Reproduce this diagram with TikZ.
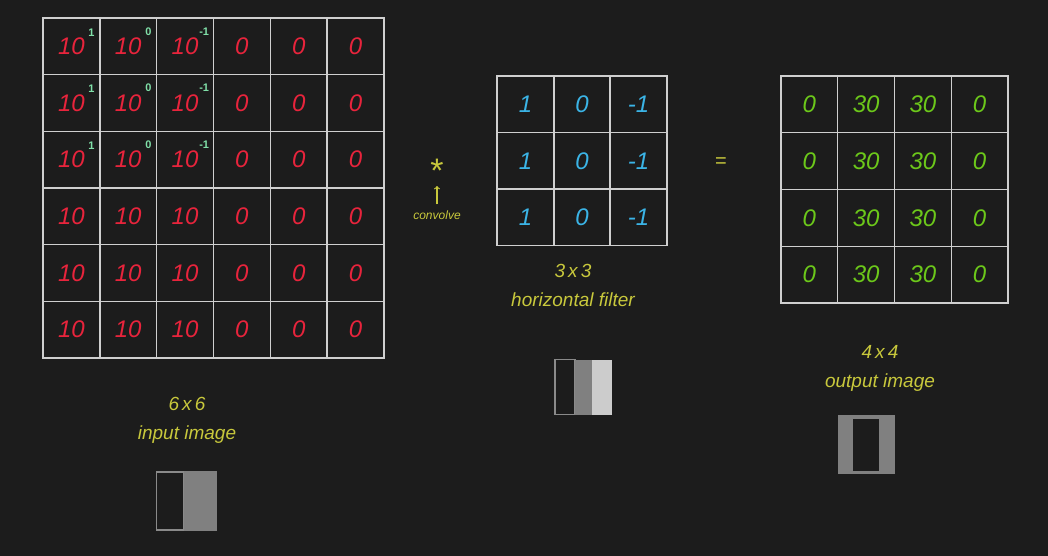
\documentclass[tikz,border=0pt]{standalone}
\usepackage{fontspec}
\setmainfont{Liberation Sans}
\definecolor{bg}{HTML}{1C1C1C}
\definecolor{gridc}{HTML}{CFCFCF}
\definecolor{redv}{HTML}{E8243C}
\definecolor{cyanv}{HTML}{3BB4E6}
\definecolor{greenv}{HTML}{6CC81A}
\definecolor{mintv}{HTML}{80E0A8}
\definecolor{yel}{HTML}{C8C83C}
\definecolor{midgray}{HTML}{808080}
\definecolor{lightgray}{HTML}{CCCCCC}
\definecolor{edgegray}{HTML}{8A8A8A}
\tikzset{
  cellbox/.style={draw=gridc, line width=1.4pt, inner sep=0pt, minimum width=56.8pt, minimum height=56.7pt, font=\fontsize{24}{24}\selectfont\itshape},
  incell/.style={cellbox, text=redv},
  fcell/.style={cellbox, text=cyanv},
  ocell/.style={cellbox, text=greenv},
  supv/.style={text=mintv, font=\fontsize{11}{11}\selectfont\bfseries, inner sep=0pt},
  lab/.style={text=yel, font=\fontsize{19}{29}\selectfont\itshape, align=center, inner sep=0pt},
  iconline/.style={draw=edgegray, line width=1.4pt}
}
\begin{document}
\begin{tikzpicture}[x=1pt,y=-1pt]
\fill[bg] (0,0) rectangle (1048,556);
\useasboundingbox (0,0) rectangle (1048,556);
% input 6x6
\foreach \r in {1,...,6}{
  \foreach \c in {1,...,6}{
    \pgfmathsetmacro{\cx}{43+(\c-0.5)*56.83}
    \pgfmathsetmacro{\cy}{18+(\r-0.5)*56.67}
    \ifnum\c<4
      \node[incell] (in-\r-\c) at (\cx,\cy) {10};
    \else
      \node[incell] (in-\r-\c) at (\cx,\cy) {0};
    \fi
  }
}
\foreach \r in {1,2,3}{
  \node[supv] (s-\r-1) at ([xshift=-9pt,yshift=-15pt]in-\r-1.north east) {1};
  \node[supv] (s-\r-2) at ([xshift=-9pt,yshift=-14pt]in-\r-2.north east) {0};
  \node[supv] (s-\r-3) at ([xshift=-10pt,yshift=-14pt]in-\r-3.north east) {-1};
}
% filter 3x3
\foreach \r in {1,2,3}{
  \pgfmathsetmacro{\cy}{76+(\r-0.5)*56.5}
  \node[fcell] (f-\r-1) at (525.5,\cy) {1};
  \node[fcell] (f-\r-2) at (582,\cy) {0};
  \node[fcell] (f-\r-3) at (638.5,\cy) {-1};
}
% output 4x4
\foreach \r in {1,...,4}{
  \foreach \c in {1,...,4}{
    \pgfmathsetmacro{\cx}{781+(\c-0.5)*56.75}
    \pgfmathsetmacro{\cy}{76+(\r-0.5)*56.75}
    \ifnum\c=1
      \node[ocell] (o-\r-\c) at (\cx,\cy) {0};
    \else\ifnum\c=4
      \node[ocell] (o-\r-\c) at (\cx,\cy) {0};
    \else
      \node[ocell] (o-\r-\c) at (\cx,\cy) {30};
    \fi\fi
  }
}
% operators
\node[text=yel, font=\fontsize{34}{34}\selectfont, inner sep=0pt] (star) at (437,171) {*};
\node[text=yel, font=\fontsize{12}{12}\selectfont\itshape, inner sep=0pt] (conv) at (437,215) {convolve};
\coordinate (arrowtip) at (437,186);
\draw[yel, line width=1.2pt, ->] ([yshift=6pt]conv.north) -- (arrowtip);
\node[text=yel, font=\fontsize{20}{20}\selectfont, inner sep=0pt] (eq) at (721,163) {=};
% labels
\node[lab] (lin) at (187,420) {6\,x\,6\\input image};
\node[lab] (lf) at (573,285) {3\,x\,3\\horizontal filter};
\node[lab] (lo) at (880,368) {4\,x\,4\\output image};
% icons
\node[inner sep=0pt, minimum width=27pt, minimum height=58pt, draw=edgegray, line width=1.4pt] (ii-l) at (170,501) {};
\node[inner sep=0pt, minimum width=33pt, minimum height=60pt, fill=midgray] (ii-r) at (200,501) {};
\node[inner sep=0pt, minimum width=20pt, minimum height=55pt, draw=edgegray, line width=1.4pt] (fi-l) at (565,387) {};
\node[inner sep=0pt, minimum width=18pt, minimum height=55pt, fill=midgray] (fi-m) at (584,387) {};
\node[inner sep=0pt, minimum width=20pt, minimum height=55pt, fill=lightgray] (fi-r) at (602,387) {};
\node[inner sep=0pt, minimum width=57pt, minimum height=59pt, fill=midgray] (oi) at (866,444) {};
\node[inner sep=0pt, minimum width=26pt, minimum height=52pt, fill=bg] (oi-in) at (866,445) {};
\end{tikzpicture}
\end{document}
